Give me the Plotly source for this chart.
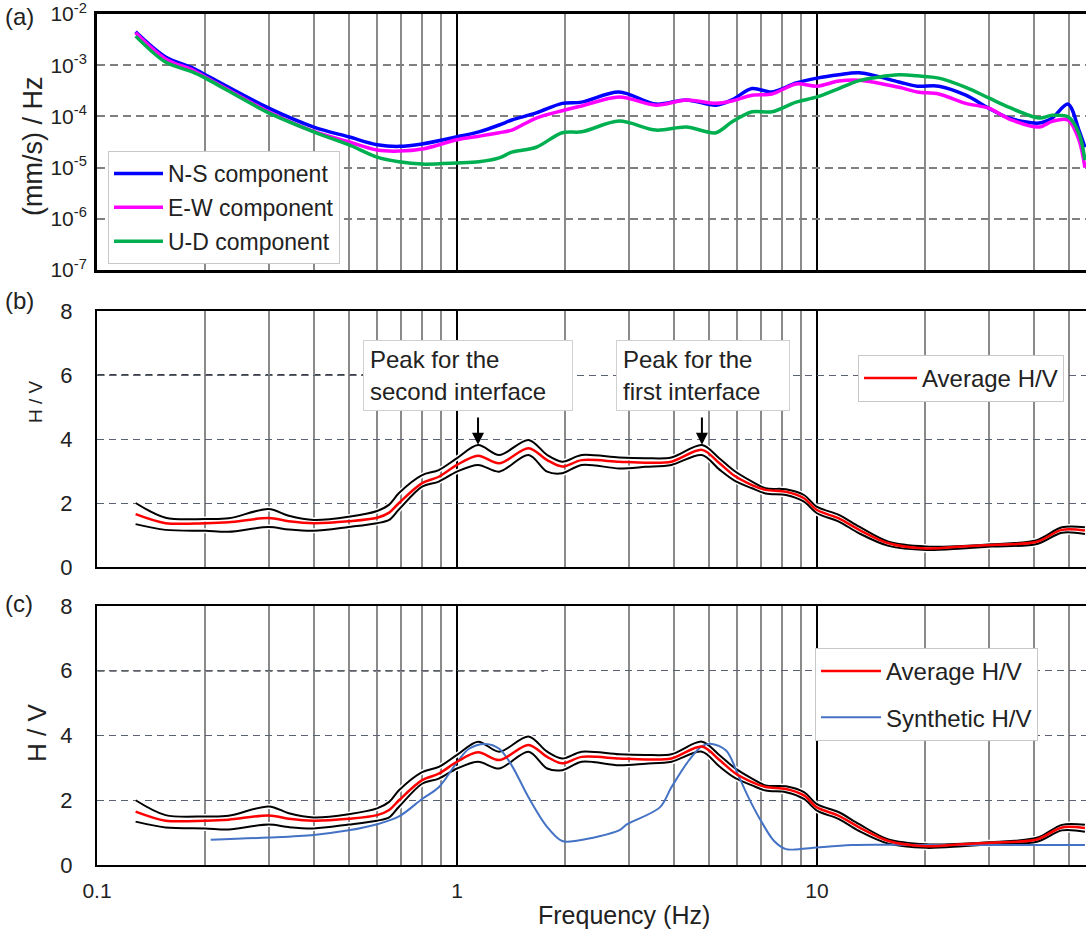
import numpy as np
import plotly.graph_objects as go

# ---------------- data ----------------
# (a) Fourier spectra (mm/s)/Hz
freq_psd = [0.128, 0.155, 0.184, 0.2, 0.3, 0.4, 0.5, 0.6, 0.69, 0.8, 1.0, 1.15, 1.31, 1.42,
            1.66, 1.96, 2.22, 2.82, 3.57, 4.33, 5.24, 5.8, 6.6, 7.5, 8.75, 10, 11.5, 13.1,
            16.9, 19, 21.8, 25.9, 30, 34.2, 41.4, 45, 49.8, 53.4, 55.5]
ns_psd = [4.5e-3, 1.45e-3, 8.9e-4, 6.5e-4, 1.45e-4, 6.2e-5, 4.0e-5, 2.8e-5, 2.6e-5, 2.9e-5,
          4.0e-5, 5.0e-5, 6.8e-5, 8.5e-5, 1.17e-4, 1.8e-4, 1.9e-4, 3.0e-4, 1.74e-4, 2.1e-4,
          1.66e-4, 2.1e-4, 3.5e-4, 3.0e-4, 4.5e-4, 5.6e-4, 6.5e-4, 7.1e-4, 4.7e-4, 3.9e-4,
          3.9e-4, 2.6e-4, 1.45e-4, 9.3e-5, 7.4e-5, 9.3e-5, 1.74e-4, 5.4e-5, 2.5e-5]
ew_psd = [4.3e-3, 1.33e-3, 8.1e-4, 5.9e-4, 1.23e-4, 5.1e-5, 3.2e-5, 2.2e-5, 2.1e-5, 2.3e-5,
          3.5e-5, 4.1e-5, 4.8e-5, 5.4e-5, 9.3e-5, 1.29e-4, 1.6e-4, 2.4e-4, 1.66e-4, 2.1e-4,
          1.8e-4, 2.0e-4, 2.6e-4, 2.75e-4, 4.3e-4, 3.9e-4, 4.9e-4, 5.1e-4, 3.7e-4, 3.0e-4,
          2.75e-4, 1.8e-4, 1.45e-4, 8.9e-5, 6.2e-5, 8.0e-5, 8.5e-5, 3.5e-5, 1.0e-5]
ud_psd = [3.7e-3, 1.15e-3, 7.4e-4, 5.6e-4, 1.17e-4, 5.0e-5, 2.8e-5, 1.6e-5, 1.3e-5, 1.17e-5,
          1.23e-5, 1.3e-5, 1.55e-5, 2.0e-5, 2.5e-5, 4.8e-5, 5.0e-5, 8.1e-5, 5.4e-5, 6.2e-5,
          4.8e-5, 7.8e-5, 1.23e-4, 1.23e-4, 1.9e-4, 2.4e-4, 3.5e-4, 5.0e-4, 6.5e-4, 6.2e-4,
          5.6e-4, 3.7e-4, 2.3e-4, 1.5e-4, 9.3e-5, 1.05e-4, 9.8e-5, 4.7e-5, 1.4e-5]

# (b),(c) H/V ratios
freq_hv = [0.128, 0.155, 0.2, 0.232, 0.3, 0.341, 0.4, 0.5, 0.6, 0.648, 0.69, 0.8, 0.89, 1.0,
           1.144, 1.31, 1.58, 1.78, 1.96, 2.22, 2.82, 3.34, 3.94, 4.79, 5.35, 5.9, 6.6, 7.2,
           8.2, 9.2, 10, 11.5, 13.1, 15.8, 20.1, 25.3, 30.6, 40.8, 47.9, 55.5]
hv_mean = [1.65, 1.37, 1.37, 1.4, 1.53, 1.43, 1.37, 1.43, 1.54, 1.7, 2.0, 2.62, 2.82, 3.19,
           3.48, 3.24, 3.71, 3.34, 3.14, 3.34, 3.29, 3.26, 3.29, 3.66, 3.25, 2.85, 2.56, 2.41,
           2.35, 2.15, 1.78, 1.52, 1.16, 0.74, 0.58, 0.64, 0.69, 0.79, 1.16, 1.14]
hv_upper = [2.0, 1.54, 1.5, 1.52, 1.81, 1.6, 1.47, 1.57, 1.75, 1.95, 2.31, 2.87, 3.03, 3.4,
            3.81, 3.5, 3.97, 3.5, 3.29, 3.5, 3.42, 3.4, 3.42, 3.81, 3.4, 3.0, 2.67, 2.46,
            2.43, 2.25, 1.88, 1.63, 1.26, 0.79, 0.64, 0.66, 0.71, 0.84, 1.24, 1.24]
hv_lower = [1.34, 1.16, 1.13, 1.1, 1.25, 1.17, 1.13, 1.25, 1.37, 1.47, 1.8, 2.51, 2.67, 2.98,
            3.19, 2.98, 3.5, 2.98, 2.93, 3.19, 3.08, 3.13, 3.19, 3.5, 3.05, 2.7, 2.46, 2.3,
            2.25, 2.04, 1.68, 1.42, 1.05, 0.66, 0.53, 0.58, 0.64, 0.72, 1.07, 1.03]

freq_syn = [0.207, 0.3, 0.4, 0.5, 0.6, 0.69, 0.8, 0.89, 1.0, 1.08, 1.2, 1.31, 1.42, 1.58, 1.77,
            1.96, 2.17, 2.82, 2.97, 3.66, 3.94, 4.4, 4.79, 5.11, 5.6, 6.05, 6.45, 6.9, 7.6,
            8.2, 8.9, 10, 12.5, 20.1, 55.5]
hv_syn = [0.78, 0.85, 0.93, 1.07, 1.26, 1.5, 2.04, 2.4, 3.17, 3.59, 3.74, 3.59, 3.07, 2.09,
          1.21, 0.74, 0.76, 1.07, 1.26, 1.78, 2.4, 3.22, 3.67, 3.74, 3.53, 2.76, 2.09, 1.47,
          0.74, 0.49, 0.49, 0.54, 0.62, 0.62, 0.62]

# peaks marked in (b)
peak_freqs = [1.144, 4.79]
peak_texts = ["Peak for the<br>second interface", "Peak for the<br>first interface"]

# axis ticks
decade_ticks = [0.1, 1, 10]
decade_labels = ["0.1", "1", "10"]
minor_ticks = [0.2, 0.3, 0.4, 0.5, 0.6, 0.7, 0.8, 0.9, 2, 3, 4, 5, 6, 7, 8, 9, 20, 30, 40, 50]
psd_ticks = [1e-7, 1e-6, 1e-5, 1e-4, 1e-3, 1e-2]
psd_labels = ["10<sup>-7</sup>", "10<sup>-6</sup>", "10<sup>-5</sup>", "10<sup>-4</sup>",
              "10<sup>-3</sup>", "10<sup>-2</sup>"]
hv_ticks = [0, 2, 4, 6, 8]
hv_labels = ["0", "2", "4", "6", "8"]

# ---------------- layout helpers ----------------
W, H = 1086, 933
FONT = "Liberation Sans, Arial, sans-serif"
X0PX = 97          # left edge of plotting area (px)
PX_PER_DECADE = 360
XRANGE = [-1, -1 + (W - X0PX) / PX_PER_DECADE]


def fx(p):
    return p / W


def fy(p):
    return 1 - p / H


fig = go.Figure()

spl = dict(shape="spline", smoothing=0.9)

# (a)
fig.add_trace(go.Scatter(x=freq_psd, y=ns_psd, name="N-S component", xaxis="x", yaxis="y",
                         line=dict(color="#0000FF", width=3.5, **spl), legend="legend",
                         legendgroup="ns"))
fig.add_trace(go.Scatter(x=freq_psd, y=ew_psd, name="E-W component", xaxis="x", yaxis="y",
                         line=dict(color="#FF00FF", width=3.5, **spl), legend="legend",
                         legendgroup="ew"))
fig.add_trace(go.Scatter(x=freq_psd, y=ud_psd, name="U-D component", xaxis="x", yaxis="y",
                         line=dict(color="#00B050", width=3.5, **spl), legend="legend",
                         legendgroup="ud"))

# (b) and (c)
for xa, ya, lg in [("x2", "y2", "legend2"), ("x3", "y3", "legend3")]:
    for arr in (hv_upper, hv_lower):
        fig.add_trace(go.Scatter(x=freq_hv, y=arr, xaxis=xa, yaxis=ya, showlegend=False,
                                 line=dict(color="white", width=5, **spl), hoverinfo="skip"))
        fig.add_trace(go.Scatter(x=freq_hv, y=arr, xaxis=xa, yaxis=ya, showlegend=False,
                                 line=dict(color="black", width=2, **spl)))
    if xa == "x3":
        fig.add_trace(go.Scatter(x=freq_syn, y=hv_syn, name="Synthetic H/V", xaxis=xa, yaxis=ya,
                                 line=dict(color="#4472C4", width=2, **spl), legend=lg,
                                 legendgroup="syn", legendrank=2))
    fig.add_trace(go.Scatter(x=freq_hv, y=hv_mean, name="Average H/V", xaxis=xa, yaxis=ya,
                             line=dict(color="#FF0000", width=2.5, **spl), legend=lg,
                             legendgroup="avg", legendrank=1))

xbase = dict(type="log", range=XRANGE, automargin=False,
             domain=[fx(X0PX), 1], showline=True, linecolor="black", linewidth=2, mirror=True,
             tickmode="array", tickvals=decade_ticks, ticktext=decade_labels,
             showgrid=True, gridcolor="black", gridwidth=2, zeroline=False, ticks="",
             minor=dict(tickmode="array", tickvals=minor_ticks, showgrid=True,
                        gridcolor="#8a8a8a", gridwidth=1.5, ticks=""),
             tickfont=dict(size=21, color="#222"), ticklabelstandoff=6)

hv_axis = dict(range=[0, 8.0001], tickmode="array", tickvals=hv_ticks, ticktext=hv_labels,
               automargin=False, ticklabeloverflow="allow",
               showgrid=True, gridcolor="#5a6272", gridwidth=1.3, griddash="7px,5px",
               zeroline=False, showline=True, linecolor="black", linewidth=2, ticks="",
               tickfont=dict(size=22, color="#222"), ticklabelstandoff=18)

fig.update_layout(
    width=W, height=H, margin=dict(l=0, r=0, t=0, b=0),
    paper_bgcolor="white", plot_bgcolor="white",
    font=dict(family=FONT, color="#222"),
    xaxis=dict(xbase, anchor="y", showticklabels=False, linewidth=3),
    yaxis=dict(type="log", range=[-7, -1.9995], domain=[fy(270), fy(14)], anchor="x",
               automargin=False, ticklabeloverflow="allow",
               tickmode="array", tickvals=psd_ticks, ticktext=psd_labels,
               showgrid=True, gridcolor="#7f7f7f", gridwidth=1.5, griddash="8px,5px",
               zeroline=False, showline=True, linecolor="black", linewidth=3, ticks="",
               tickfont=dict(size=21, color="#222"), ticklabelstandoff=3),
    xaxis2=dict(xbase, anchor="y2", matches="x", showticklabels=False),
    yaxis2=dict(hv_axis, domain=[fy(567), fy(311)], anchor="x2"),
    xaxis3=dict(xbase, anchor="y3", matches="x", showticklabels=True),
    yaxis3=dict(hv_axis, domain=[fy(865), fy(606)], anchor="x3"),
    legend=dict(x=fx(108), y=fy(151), xanchor="left", yanchor="top",
                bgcolor="white", bordercolor="#c8c8c8", borderwidth=1,
                font=dict(size=23, color="#222"), tracegroupgap=1, itemwidth=49),
    legend2=dict(x=fx(858), y=fy(355), xanchor="left", yanchor="top",
                 bgcolor="white", bordercolor="#c8c8c8", borderwidth=1,
                 font=dict(size=24, color="#222"), itemwidth=53),
    legend3=dict(x=fx(815), y=fy(648), xanchor="left", yanchor="top",
                 bgcolor="white", bordercolor="#c8c8c8", borderwidth=1,
                 font=dict(size=24, color="#222"), tracegroupgap=12, itemwidth=60),
)

# black dashed reference line at H/V = 6
for xa, ya in [("x2", "y2"), ("x3", "y3")]:
    fig.add_shape(type="line", xref=xa, x0=XRANGE[0], x1=XRANGE[1], yref=ya, y0=6, y1=6,
                  line=dict(color="black", width=1.5, dash="7px,5px"), layer="below")

ann = []
# panel labels
for lab, ypx in [("(a)", 17), ("(b)", 300), ("(c)", 603)]:
    ann.append(dict(text=lab, x=fx(3), y=fy(ypx), xref="paper", yref="paper",
                    xanchor="left", yanchor="middle", showarrow=False,
                    font=dict(size=24, color="#222")))
# axis titles
ann.append(dict(text="(mm/s) / Hz", x=fx(33), y=fy(147), xref="paper", yref="paper",
                xanchor="center", yanchor="middle",
                textangle=-90, showarrow=False, font=dict(size=27, color="#222")))
ann.append(dict(text="H / V", x=fx(35), y=fy(402), xref="paper", yref="paper",
                xanchor="center", yanchor="middle",
                textangle=-90, showarrow=False, font=dict(size=19, color="#222")))
ann.append(dict(text="H / V", x=fx(37), y=fy(733), xref="paper", yref="paper",
                xanchor="center", yanchor="middle",
                textangle=-90, showarrow=False, font=dict(size=26, color="#222")))
ann.append(dict(text="Frequency (Hz)", x=fx(624), y=fy(915), xref="paper", yref="paper",
                xanchor="center", yanchor="middle",
                showarrow=False, font=dict(size=25, color="#222")))

# peak boxes and arrows in (b)
box_left_px = [363, 616]
box_w_px = [196, 160]
for f, txt, lpx, wpx in zip(peak_freqs, peak_texts, box_left_px, box_w_px):
    ann.append(dict(text=txt, x=fx(lpx), y=fy(340), xref="paper", yref="paper",
                    xanchor="left", yanchor="top", align="left", showarrow=False,
                    width=wpx, height=57,
                    bgcolor="white", bordercolor="#d0d0d0", borderwidth=1, borderpad=6,
                    font=dict(size=24, color="#222")))
    ann.append(dict(text="", x=np.log10(f), y=3.82, xref="x2", yref="y2",
                    ax=np.log10(f), ay=4.72, axref="x2", ayref="y2",
                    showarrow=True, arrowhead=2, arrowsize=1.2, arrowwidth=2,
                    arrowcolor="black"))

fig.update_layout(annotations=ann)

fig.write_html("out.html", config={"displayModeBar": False},
               post_script="document.body.style.margin='0px';document.body.style.overflow='hidden';")
